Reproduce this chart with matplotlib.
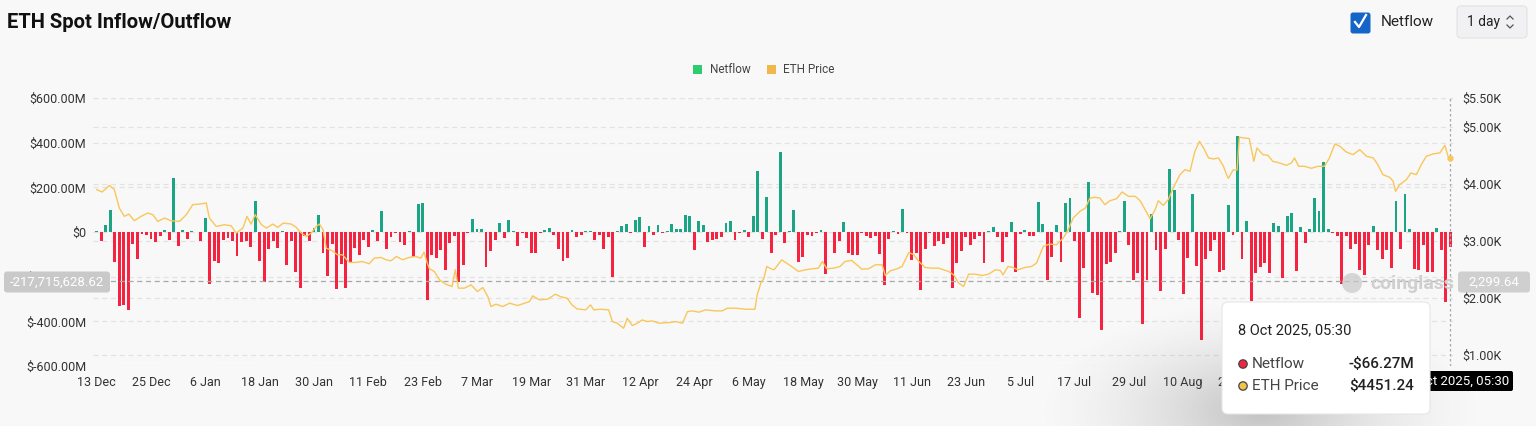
import matplotlib
matplotlib.use("Agg")
import matplotlib.pyplot as plt
from matplotlib.patches import FancyBboxPatch, Rectangle, Circle
from matplotlib.transforms import IdentityTransform, blended_transform_factory
from matplotlib.lines import Line2D
import numpy as np

# ---------------- data ----------------
# daily netflow, millions USD (13 Dec 2024 .. 8 Oct 2025)
netflow = [
    5, -42, 32, 100, -133, -333, -326, -349, -53, -121,
    -9, -12, -31, -44, -20, 9, -37, 240, -63, 7,
    -31, 6, -2, -41, 63, -232, -131, -137, -35, -26,
    -39, -108, -47, -41, -67, 140, -128, -222, -74, -42,
    -72, 6, -149, -42, -180, -251, -16, -39, 20, 76,
    -96, -199, -55, -257, -143, -250, -133, -72, -101, -35,
    -67, 10, -39, 96, -77, -23, -4, -44, -57, 6,
    -111, 127, 131, -305, -105, -117, -80, -168, -48, -20,
    -225, -149, -6, 57, 12, 12, -156, -86, -38, 41,
    -25, 53, 3, -61, -3, -25, -95, -95, -3, 8,
    17, -12, -74, -131, -118, 9, -23, -13, 6, 6,
    -35, -12, -74, -23, -203, 3, 26, 36, -3, 53,
    67, -66, 25, -15, 31, -6, 3, 36, 13, 13,
    77, 70, -80, 48, 31, -45, -35, -31, -23, 42,
    51, -38, -3, 7, -23, 70, 274, -32, 155, -96,
    -13, 356, -50, 6, 100, -134, -114, -12, -19, -4,
    7, -187, 2, -93, -42, 47, -93, -104, -104, -6,
    -16, -26, -19, -99, -237, -31, 6, -9, 105, -4,
    -127, -96, -258, -77, -6, -63, -39, -53, -25, -250,
    -139, -85, -23, -58, -32, -18, -140, 4, 22, -21,
    -134, -23, 45, -181, -9, 7, -20, -16, 134, 38,
    -213, -112, 31, -134, 128, 153, -42, -385, -161, 226,
    -272, -280, -440, -145, -134, -95, 3, 139, -57, -213,
    -185, -410, -213, 80, -79, -264, -74, 283, 188, -38,
    -279, -117, 171, -153, -485, -123, -85, -35, -180, -169,
    123, -12, 429, -121, 51, -308, -184, -158, -137, -184,
    42, 26, -204, 73, 86, -175, 23, -50, 13, 152,
    96, 315, 15, -4, -20, -235, -20, -77, -53, -169,
    -194, -58, 29, -79, -121, -79, -162, 140, -76, 169,
    15, -164, -168, -57, -181, -181, 20, -82, -315, -66.27,
]

# ETH price (day offset from 13 Dec 2024, USD)
price_day = [
    0, 1.2, 2.8, 3.9, 5, 6.1, 7.1, 8.3, 9.8, 11.3, 12.4, 13.5, 15, 16.4, 18.3, 19.8,
    21.2, 22.7, 24.2, 24.9, 26.4, 28.2, 29.7, 30.8, 32.3, 33.2, 34.1, 35, 36.4, 37.5,
    38.9, 40, 41.2, 43, 44.1, 45.2, 46.3, 47.4, 48.5, 49.2, 50, 50.7, 52, 53.2, 54.3,
    55.8, 57.2, 58.7, 60.2, 61.3, 62.8, 63.9, 65, 66.2, 67.6, 69, 70.5, 71.6, 72.3,
    72.9, 73.5, 74.6, 75.7, 77.1, 78.5, 79.2, 79.9, 81.2, 82.7, 84.1, 85.3, 86.4, 87.1,
    88.2, 89.7, 91.2, 93, 94.5, 95.6, 96.3, 97.8, 99.6, 100.2, 101.3, 102.4, 103.9, 105,
    106.1, 108, 109.1, 109.8, 111.3, 113.1, 113.9, 115, 116.4, 117.2, 118.3, 119.4,
    120.5, 121.6, 122.7, 124.2, 126.4, 127.9, 129.4, 130.5, 131.6, 133, 134.5, 136.7,
    138.2, 139.3, 141.2, 143.4, 145.4, 145.9, 146.7, 147.4, 148, 148.7, 149.6, 150.2,
    151.3, 152.4, 153.5, 155, 156.5, 158, 159.4, 160.3, 161.3, 162.8, 164.2, 165.3,
    166.8, 167.9, 169, 170.5, 172, 173.5, 174.2, 175.3, 176.8, 177.9, 179.4, 180.5,
    181.6, 183, 184.5, 186, 188.2, 189.3, 190.4, 191.5, 192.6, 194.1, 195.6, 197,
    198.5, 199.6, 200.2, 201.3, 202.4, 203.5, 205, 206.5, 207.6, 209.1, 210.5, 212,
    213.5, 214.6, 215.7, 217.2, 218.4, 219.4, 220.5, 221.6, 222.7, 223.8, 225.3, 226.5,
    227.9, 229.4, 230.5, 231.6, 232.7, 233.8, 234.5, 235.6, 236.7, 237.8, 239.3, 240.4,
    241.5, 242.6, 243.6, 244.5, 245.6, 246.7, 247.8, 248.9, 249.6, 250, 251, 251.9,
    252.4, 253.5, 254.6, 255.6, 256.3, 257.6, 258.7, 259.8, 261.3, 262.8, 263.9, 264.6,
    265.5, 266.8, 268.3, 269.8, 271.2, 272.3, 273.5, 274.6, 276, 277.5, 279, 280.5,
    282, 283, 284.1, 285.6, 286.4, 286.9, 287.8, 289.3, 290.3, 291.5, 292.6, 293.7,
    295.2, 296.7, 297.8, 298.5, 299,
]
price_value = [
    3895, 3854, 3970, 3895, 3573, 3427, 3468, 3351, 3427, 3486, 3457, 3339, 3398, 3351, 3339, 3457,
    3631, 3643, 3661, 3398, 3251, 3281, 3263, 3135, 3222, 3427, 3292, 3457, 3281, 3222,
    3292, 3234, 3310, 3292, 3234, 3135, 3076, 3135, 3251, 3292, 3193, 2871, 2825, 2754, 2754,
    2620, 2620, 2637, 2597, 2696, 2708, 2667, 2649, 2725, 2667, 2708, 2725, 2696, 2801,
    2637, 2509, 2462, 2316, 2240, 2199, 2491, 2170, 2170, 2228, 2111, 2181, 2023, 1848,
    1889, 1848, 1907, 1866, 1907, 1936, 2035, 1965, 1977, 2006, 2065, 2023, 1994, 1877,
    1807, 1790, 1877, 1790, 1801, 1790, 1585, 1556, 1468, 1644, 1515, 1556,
    1614, 1585, 1597, 1556, 1567, 1585, 1556, 1760, 1772, 1749, 1790, 1772,
    1772, 1819, 1819, 1801, 1801, 2053, 2258, 2345, 2550, 2520, 2491, 2550,
    2667, 2608, 2550, 2462, 2491, 2509, 2520, 2637, 2509, 2520, 2550, 2637,
    2655, 2579, 2503, 2509, 2579, 2579, 2392, 2474, 2509, 2550, 2795, 2754,
    2637, 2532, 2520, 2520, 2462, 2403, 2258, 2199, 2415, 2415, 2392, 2415,
    2491, 2480, 2403, 2550, 2532, 2491, 2532, 2550, 2608, 2901, 2942, 2930,
    3047, 3193, 3398, 3515, 3573, 3748, 3760, 3748, 3631, 3701, 3736, 3854,
    3778, 3778, 3701, 3544, 3386, 3544, 3701, 3620, 3719, 3924, 4158, 4246,
    4216, 4567, 4742, 4625, 4450, 4433, 4450, 4304, 4150, 4093, 4239, 4239,
    4813, 4801, 4789, 4391, 4625, 4508, 4497, 4391, 4362, 4321, 4362, 4450,
    4304, 4304, 4269, 4304, 4304, 4450, 4696, 4655, 4555, 4508, 4596, 4479,
    4450, 4333, 4158, 4111, 4041, 3865, 3982, 4070, 4187, 4158, 4333, 4479,
    4521, 4538, 4672, 4479, 4451.24,
]

x_tick_labels = ["13 Dec", "25 Dec", "6 Jan", "18 Jan", "30 Jan", "11 Feb", "23 Feb",
                 "7 Mar", "19 Mar", "31 Mar", "12 Apr", "24 Apr", "6 May", "18 May",
                 "30 May", "11 Jun", "23 Jun", "5 Jul", "17 Jul", "29 Jul", "10 Aug",
                 "22 Aug", "3 Sep", "15 Sep", "27 Sep"]
x_tick_step = 12
left_ticks = [-600, -400, -200, 0, 200, 400, 600]
left_tick_labels = ["$-600.00M", "$-400.00M", "$-200.00M", "$0", "$200.00M", "$400.00M", "$600.00M"]
right_ticks = [1000, 2000, 3000, 4000, 5000, 5500]
right_tick_labels = ["$1.00K", "$2.00K", "$3.00K", "$4.00K", "$5.00K", "$5.50K"]
price_range = (807, 5500)

hover_netflow_label = "-$66.27M"
hover_price_label = "$4451.24"
hover_time = "8 Oct 2025, 05:30"
cross_left_value = -217.71562862
cross_left_text = "-217,715,628.62"
cross_right_text = "2,299.64"

# ---------------- style ----------------
plt.rcParams['font.family'] = ['Roboto', 'DejaVu Sans']
BG = '#f8f8f8'
GREEN = '#1ba584'
RED = '#f5233f'
GOLD = '#f8c75a'
GRID = '#e2e2e2'
TXT = '#333333'

W, H = 1536, 426
fig = plt.figure(figsize=(W / 100, H / 100), dpi=100)
fig.patch.set_facecolor(BG)
PX = IdentityTransform()


def Y(y):
    return H - y


L, R, T, B = 93.3, 1453.0, 98.0, 366.0
ax = fig.add_axes([L / W, 1 - B / H, (R - L) / W, (B - T) / H])
ax.set_facecolor('none')
ax2 = ax.twinx()

n = len(netflow)
xs = np.arange(n)
vals = np.array(netflow, dtype=float)
colors = [GREEN if v >= 0 else RED for v in vals]

# grid (left ticks and right ticks), drawn behind bars
for v in left_ticks:
    ax.axhline(v, color=GRID, lw=0.9, ls=(0, (4, 3)), zorder=0)
btr = blended_transform_factory(ax.transAxes, ax2.transData)
for v in right_ticks:
    ax.plot([0, 1], [v, v], transform=btr, color=GRID, lw=0.9, ls=(0, (4, 3)), zorder=0)

ax.bar(xs, vals, width=0.64, color=colors, zorder=2)

ax.set_xlim(-0.75, n - 0.4)
ax.set_ylim(-600, 600)
ax2.set_ylim(*price_range)

ax2.plot(price_day, price_value, color=GOLD, lw=1.0, zorder=3, solid_joinstyle='round')
ax2.plot([price_day[-1]], [price_value[-1]], marker='o', ms=3.5, mfc=GOLD, mec=GOLD, zorder=4)

for a in (ax, ax2):
    for s in a.spines.values():
        s.set_visible(False)

ax.set_yticks(left_ticks)
ax.set_yticklabels(left_tick_labels)
ax.tick_params(axis='y', length=0, pad=5, labelsize=9, labelcolor=TXT)
ax.set_xticks(list(range(0, n, x_tick_step))[:len(x_tick_labels)])
ax.set_xticklabels(x_tick_labels)
ax.tick_params(axis='x', length=0, pad=7, labelsize=9, labelcolor=TXT)
ax2.set_yticks(right_ticks)
ax2.set_yticklabels(right_tick_labels)
ax2.tick_params(axis='y', length=0, pad=7, labelsize=9, labelcolor=TXT)

# crosshair
ax.axhline(cross_left_value, color='#a8a8a8', lw=0.9, ls=(0, (4, 3)), zorder=5)
ax.axvline(n - 1, color='#a8a8a8', lw=0.9, ls=(0, (2, 2)), zorder=5)


def box_text(xc, yc, w, h, text, fc, tc, fs=9, r=3):
    fig.patches.append(FancyBboxPatch((xc - w / 2 + r, Y(yc) - h / 2 + r), w - 2 * r, h - 2 * r,
                                      boxstyle=f"round,pad={r}", transform=PX, fc=fc, ec='none', zorder=20))
    fig.text(xc, Y(yc), text, transform=PX, ha='center', va='center', color=tc, fontsize=fs, zorder=21)


box_text(57, 282, 106, 21, cross_left_text, '#c9c9c9', 'white', fs=9.5)
box_text(1494, 282, 72, 21, cross_right_text, '#cfcfcf', 'white', fs=9.5)
box_text(1458, 381, 110, 20, hover_time, '#000000', 'white', fs=9.5, r=2)

# watermark
fig.patches.append(Circle((1352, Y(283)), 10, transform=PX, fc='#c8c8c8', ec='none', alpha=0.7, zorder=6))
fig.text(1370, Y(284), "coinglass", transform=PX, ha='left', va='center', color='#cfcfcf',
         fontsize=14, fontweight='bold', zorder=6)

# soft tooltip shadow (radial gradient)
gx0, gx1, gy0, gy1 = 1020, 1536, 250, 426
gax = fig.add_axes([gx0 / W, 0, (gx1 - gx0) / W, (gy1 - gy0) / H], zorder=22)
gax.axis('off')
gxx, gyy = np.meshgrid(np.arange(gx0, gx1), np.arange(gy0, gy1))
rr = np.sqrt(((gxx - 1260) / 230.0) ** 2 + ((gyy - 410) / 115.0) ** 2)
alpha = np.clip(1 - rr, 0, 1) ** 1.6 * 0.32
img = np.zeros(gxx.shape + (4,))
img[..., :3] = 0.3
img[..., 3] = alpha
gax.imshow(img, extent=(gx0, gx1, gy1, gy0), aspect='auto', interpolation='bilinear')
gax.set_xlim(gx0, gx1)
gax.set_ylim(gy1, gy0)

fig.patches.append(FancyBboxPatch((1228, Y(408)), 196, 100, boxstyle="round,pad=6", transform=PX,
                                  fc='white', ec='#e6e6e6', lw=0.8, zorder=23))
fig.text(1238, Y(330), hover_time, transform=PX, ha='left', va='center', fontsize=10.5, color='#222', zorder=24)
for yy, col, lab, val in [(364, RED, "Netflow", hover_netflow_label), (386, '#f3c24b', "ETH Price", hover_price_label)]:
    fig.patches.append(Circle((1243, Y(yy)), 4.2, transform=PX, fc=col, ec='#444', lw=0.9, zorder=24))
    fig.text(1252, Y(yy), lab, transform=PX, ha='left', va='center', fontsize=11, color='#444', zorder=24)
    fig.text(1414, Y(yy), val, transform=PX, ha='right', va='center', fontsize=11, color='#222',
             fontweight='medium', zorder=24)

# legend
fig.patches.append(Rectangle((693, Y(74)), 9, 9, transform=PX, fc='#2ecc71', ec='none'))
fig.text(710, Y(69.5), "Netflow", transform=PX, ha='left', va='center', fontsize=8.5, color='#444')
fig.patches.append(Rectangle((767, Y(74)), 9, 9, transform=PX, fc='#f0b84a', ec='none'))
fig.text(783, Y(69.5), "ETH Price", transform=PX, ha='left', va='center', fontsize=8.5, color='#444')

# header
fig.text(7, Y(22), "ETH Spot Inflow/Outflow", transform=PX, ha='left', va='center', fontsize=14.5,
         fontweight='bold', color='#111')
fig.patches.append(FancyBboxPatch((1353, Y(31)), 15, 16, boxstyle="round,pad=2.5", transform=PX,
                                  fc='#1565c8', ec='none'))
fig.lines.append(Line2D([1355, 1359, 1366], [Y(22), Y(27), Y(15)], transform=PX, color='white', lw=1.6))
fig.text(1381, Y(22), "Netflow", transform=PX, ha='left', va='center', fontsize=11, color='#222')
fig.patches.append(FancyBboxPatch((1461, Y(34)), 62, 24, boxstyle="round,pad=4", transform=PX,
                                  fc='#f1f1f3', ec='#e2e2e2', lw=0.8))
fig.text(1467, Y(22), "1 day", transform=PX, ha='left', va='center', fontsize=10, color='#222')
fig.lines.append(Line2D([1507, 1510, 1513], [Y(19), Y(16), Y(19)], transform=PX, color='#555', lw=0.9))
fig.lines.append(Line2D([1507, 1510, 1513], [Y(25), Y(28), Y(25)], transform=PX, color='#555', lw=0.9))

fig.savefig("out.png", dpi=100, facecolor=BG)
